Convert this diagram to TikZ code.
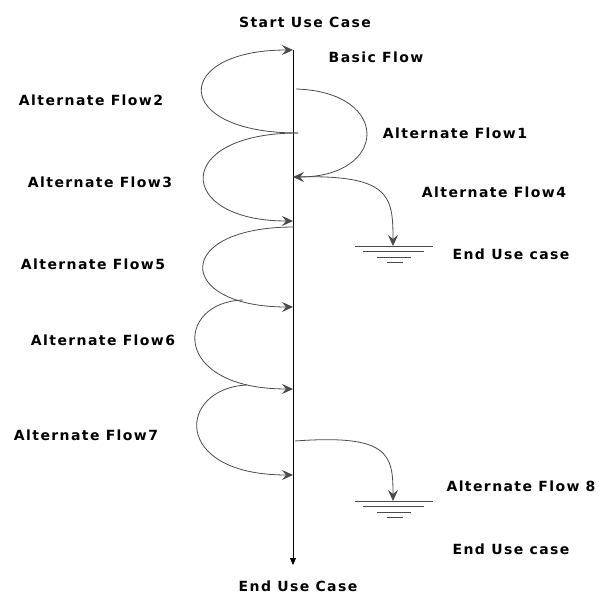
\documentclass[tikz,border=0pt]{standalone}
\usepackage{fontspec}
\setmainfont{DejaVu Sans}
\newfontfamily\lblfont[LetterSpace=10]{DejaVu Sans}
\usetikzlibrary{arrows.meta}
\definecolor{flowgray}{HTML}{4A4A4A}
\tikzset{
  lbl/.style={font=\lblfont\bfseries\fontsize{14}{16}\selectfont, inner sep=0pt},
  flow/.style={draw=flowgray, line width=0.8pt},
  tip/.style={-{Stealth[length=11pt,width=10pt,inset=4pt]}},
}
\begin{document}
\begin{tikzpicture}[x=1pt,y=-1pt]
\useasboundingbox (0,0) rectangle (600,596);
% main line
\coordinate (top) at (293,50);
\coordinate (bot) at (293,565);
\draw[black, line width=0.8pt, -{Triangle[length=7pt,width=6pt]}] (top) -- (bot);
% points on the line
\coordinate (a1) at (296,89);
\coordinate (a2) at (298,133);
\coordinate (a3) at (293,177);
\coordinate (a4) at (293,221);
\coordinate (a5) at (294,227);
\coordinate (a6) at (293,307);
\coordinate (b6) at (243,300);
\coordinate (a7) at (293,389);
\coordinate (b7) at (247,385);
\coordinate (a8) at (293,475);
\coordinate (a9) at (295,441);
\coordinate (g1) at (393,246);
\coordinate (g2) at (393,501);
% labels
\node[lbl] (start) at (305,22) {Start Use Case};
\node[lbl] (basic) at (376,57) {Basic Flow};
\node[lbl] (af1) at (455,133) {Alternate Flow1};
\node[lbl] (af2) at (91,100) {Alternate Flow2};
\node[lbl] (af3) at (100,182) {Alternate Flow3};
\node[lbl] (af4) at (494,192) {Alternate Flow4};
\node[lbl] (end1) at (511,254) {End Use case};
\node[lbl] (af5) at (93,264) {Alternate Flow5};
\node[lbl] (af6) at (103,340) {Alternate Flow6};
\node[lbl] (af7) at (86,435) {Alternate Flow7};
\node[lbl] (af8) at (521,486) {Alternate Flow 8};
\node[lbl] (end2) at (511,549) {End Use case};
\node[lbl] (end) at (298,586) {End Use Case};
% flows
\draw[flow, tip] (a1) .. controls (392,92) and (388,177) .. (a3);
\draw[flow, tip] (a2) .. controls (170,133) and (172,50) .. (top);
\draw[flow, tip] (a2) .. controls (172,133) and (175,221) .. (a4);
\draw[flow, tip] (a5) .. controls (172,227) and (175,307) .. (a6);
\draw[flow, tip] (b6) .. controls (175,302) and (170,389) .. (a7);
\draw[flow, tip] (b7) .. controls (178,388) and (170,475) .. (a8);
\draw[flow, tip] (a3) .. controls (390,174) and (393,195) .. (g1);
\draw[flow, tip] (a9) .. controls (390,434) and (393,455) .. (g2);
% ground marks
\foreach \g in {g1,g2}{
  \draw[flowgray, line width=0.8pt] ([xshift=-38pt]\g) -- ([xshift=40pt]\g);
  \draw[flowgray, line width=0.8pt] ([xshift=-30pt,yshift=-5.5pt]\g) -- ([xshift=31pt,yshift=-5.5pt]\g);
  \draw[flowgray, line width=0.8pt] ([xshift=-16pt,yshift=-11pt]\g) -- ([xshift=18pt,yshift=-11pt]\g);
  \draw[flowgray, line width=0.8pt] ([xshift=-6pt,yshift=-16pt]\g) -- ([xshift=10pt,yshift=-16pt]\g);
}
\end{tikzpicture}
\end{document}
